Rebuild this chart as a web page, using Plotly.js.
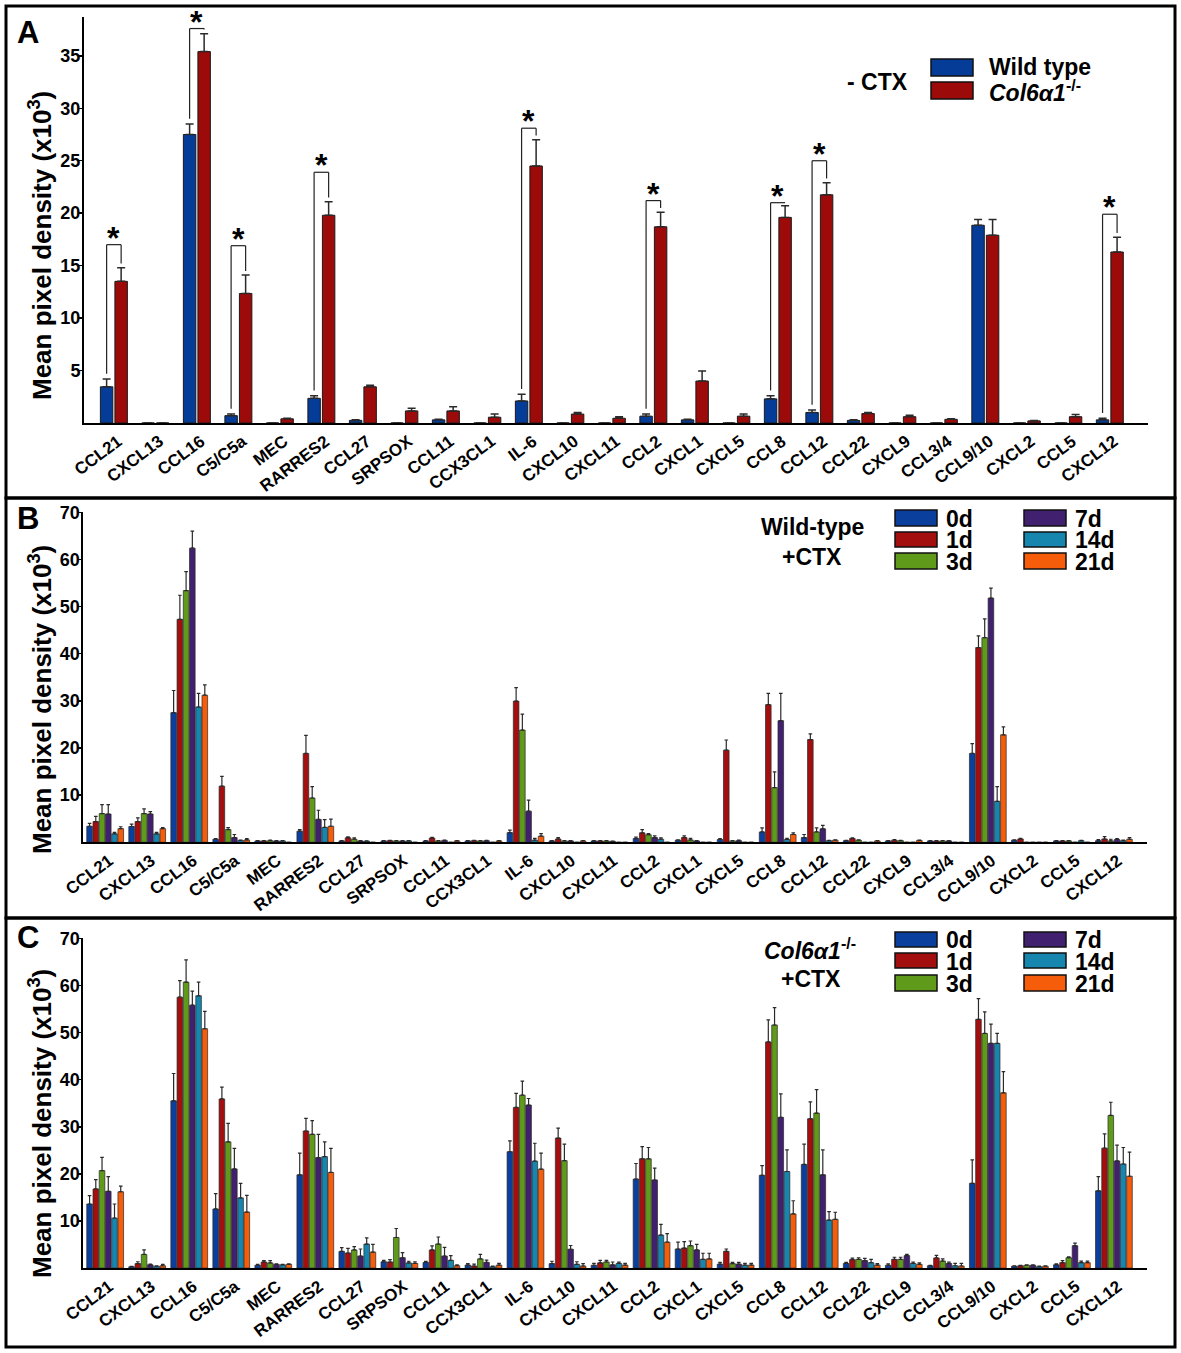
<!DOCTYPE html>
<html>
<head>
<meta charset="utf-8">
<script src="https://cdn.plot.ly/plotly-3.0.1.min.js"></script>
<style>
html,body{margin:0;padding:0;background:#fff;}
#chart{width:1181px;height:1353px;}
</style>
</head>
<body>
<div id="chart"></div>
<script>
// ---------------- categories ----------------
const cats = ['CCL21','CXCL13','CCL16','C5/C5a','MEC','RARRES2','CCL27','SRPSOX','CCL11','CCX3CL1','IL-6','CXCL10','CXCL11','CCL2','CXCL1','CXCL5','CCL8','CCL12','CCL22','CXCL9','CCL3/4','CCL9/10','CXCL2','CCL5','CXCL12'];

// ---------------- Panel A (- CTX) ----------------
const wtA    = [3.45,0,27.5,0.7,0,2.35,0.25,0,0.3,0,2.1,0,0,0.65,0.3,0,2.3,1.0,0.25,0,0,18.85,0,0,0.3];
const wtASem = [0.75,0,1.0,0.15,0,0.25,0.05,0,0.05,0,0.65,0,0,0.2,0.05,0,0.3,0.25,0.05,0,0,0.55,0,0,0.15];
const koA    = [13.5,0,35.4,12.35,0.4,19.8,3.45,1.15,1.15,0.55,24.5,0.85,0.45,18.7,4.0,0.65,19.6,21.75,0.9,0.6,0.35,17.9,0.2,0.6,16.3];
const koASem = [1.3,0,1.7,1.75,0.05,1.3,0.15,0.25,0.4,0.3,2.5,0.15,0.15,1.4,0.95,0.2,1.1,1.15,0.1,0.15,0.05,1.5,0.05,0.2,1.4];
const sigCats = ['CCL21','CCL16','C5/C5a','RARRES2','IL-6','CCL2','CCL8','CCL12','CXCL12'];
const sigTop  = [17.0,37.6,16.9,23.9,28.1,21.2,21.0,25.0,19.9];
const ticksA = [5,10,15,20,25,30,35];

// ---------------- Panel B (Wild-type +CTX) ----------------
const days = ['0d','1d','3d','7d','14d','21d'];
const wt0  = [3.4,3.35,27.5,0.65,0.3,2.35,0.3,0.3,0.3,0.3,2.05,0.3,0.3,0.8,0.45,0.6,2.2,1.0,0.35,0.3,0.3,18.85,0.45,0.3,0.35];
const wt0s = [0.6,0.5,4.7,0.15,0.05,0.35,0.05,0.05,0.05,0.05,0.55,0.05,0.05,0.3,0.05,0.2,0.85,0.65,0.05,0.05,0.05,2.1,0.05,0.05,0.2];
const wt1  = [4.4,4.4,47.3,11.9,0.3,18.85,0.95,0.35,0.9,0.35,29.95,0.7,0.3,2.0,1.0,19.55,29.2,21.8,0.8,0.45,0.3,41.3,0.7,0.3,0.7];
const wt1s = [1.1,0.8,5.1,2.1,0.05,3.85,0.2,0.05,0.15,0.05,2.85,0.3,0.05,0.7,0.35,2.15,2.4,1.2,0.15,0.1,0.05,2.5,0.15,0.05,0.5];
const wt3  = [6.1,6.1,53.4,2.7,0.35,9.4,0.65,0.3,0.3,0.3,23.8,0.3,0.3,1.6,0.5,0.3,11.6,2.2,0.45,0.35,0.3,43.4,0,0.3,0.3];
const wt3s = [1.9,1.0,4.0,0.4,0.1,2.4,0.3,0.05,0.05,0.05,3.4,0.05,0.05,0.25,0.35,0.05,3.35,0.85,0.05,0.05,0.05,4.0,0,0.05,0.35];
const wt7  = [6.0,6.0,62.4,1.0,0.3,4.85,0.3,0.3,0.4,0.35,6.6,0.3,0.2,1.0,0.3,0.35,25.8,2.85,0,0,0.3,51.8,0,0,0.6];
const wt7s = [2.0,0.5,3.6,0.65,0.05,1.95,0.05,0.05,0.05,0.05,2.35,0.05,0.05,0.35,0.05,0.1,5.8,0.75,0,0,0.05,2.1,0,0,0.2];
const wt14 = [1.8,1.8,28.7,0.4,0.3,3.15,0.25,0.3,0,0,0.45,0,0,0.65,0,0,0.6,0.35,0,0,0,8.7,0,0.35,0.35];
const wt14s= [0.3,0.3,2.9,0.05,0.05,1.65,0.05,0.05,0,0,0.4,0,0,0.3,0,0,0.25,0.05,0,0,0,3.1,0,0.05,0.1];
const wt21 = [2.9,2.9,31.2,0.5,0,3.4,0,0,0.3,0.3,1.3,0.3,0,0,0,0,1.65,0.45,0.3,0.4,0,22.8,0,0,0.65];
const wt21s= [0.4,0.2,2.2,0.3,0,1.5,0,0,0.05,0.05,0.55,0.05,0,0,0,0,0.35,0.05,0.05,0.05,0,1.7,0,0,0.35];

// ---------------- Panel C (Col6a1-/- +CTX) ----------------
const ko0  = [13.6,0.3,35.5,12.55,0.6,19.8,3.55,1.35,1.2,0.65,24.7,0.95,0.6,18.9,4.05,0.85,19.7,22.0,1.0,0.6,0.5,18.0,0.4,0.7,16.4];
const ko0s = [1.8,0.05,5.8,3.25,0.2,4.6,0.8,0.3,0.25,0.3,2.3,0.5,0.4,3.3,1.45,0.35,2.05,4.3,0.2,0.3,0.1,4.95,0.1,0.2,3.0];
const ko1  = [16.8,0.95,57.5,35.9,1.3,29.1,3.2,1.3,3.85,0.45,34.1,27.6,1.1,23.2,4.25,3.55,48.0,31.7,1.8,1.85,2.15,52.8,0.5,1.15,25.45];
const ko1s = [2.0,0.4,3.5,2.5,0.3,2.7,1.0,0.5,0.85,0.4,3.0,2.1,0.55,2.6,1.35,0.5,4.7,3.6,0.3,0.45,0.55,4.4,0.1,0.45,3.05];
const ko3  = [20.7,2.9,60.7,26.8,1.1,28.4,3.85,6.5,5.1,1.95,36.7,22.8,1.3,23.2,4.75,0.95,51.6,32.9,1.85,1.85,1.5,49.8,0.6,2.2,32.4];
const ko3s = [2.8,0.95,4.7,3.9,0.5,2.9,0.7,1.9,1.5,0.95,3.0,3.5,0.35,2.4,1.0,0.25,3.7,5.0,0.35,0.45,0.45,4.6,0.1,0.2,2.8];
const ko7  = [16.3,0.7,55.8,21.05,0.8,23.45,2.55,2.2,2.55,1.2,34.6,4.0,0.7,18.7,3.85,0.85,32.0,19.8,1.6,2.65,1.0,47.7,0.6,4.75,22.75];
const ko7s = [3.1,0.15,3.0,4.35,0.1,4.95,1.5,1.1,1.85,0.5,1.4,0.8,0.6,2.5,1.2,0.35,5.0,5.3,0.45,0.25,0.3,4.1,0.1,0.55,3.35];
const ko14 = [10.6,0.4,57.8,14.9,0.7,23.65,5.1,1.1,1.65,0.3,22.7,0.8,1.0,7.0,1.85,0.65,20.5,10.2,1.15,1.0,0.5,47.7,0.3,1.15,22.1];
const ko14s= [3.0,0.1,2.9,3.1,0.1,3.15,1.3,0.35,1.0,0.1,3.8,0.55,0.3,2.3,1.3,0.35,4.6,1.8,0.7,0.3,0.5,2.1,0.1,0.35,3.5];
const ko21 = [16.2,0.5,50.8,11.9,0.8,20.3,3.4,1.0,0.5,0.65,21.0,0.45,0.65,5.5,1.95,0.65,11.5,10.35,0.65,0.8,0.45,37.2,0.4,1.15,19.5];
const ko21s= [1.2,0.3,3.7,3.55,0.1,5.1,1.65,0.35,0.2,0.35,3.4,0.5,0.35,1.8,1.2,0.35,2.8,1.5,0.3,0.3,0.55,4.5,0.1,0.35,5.1];
const ticksBC = [10,20,30,40,50,60,70];

// ---------------- styling ----------------
const W = 1181, H = 1353;
const fx = p => p / W;
const fy = p => 1 - p / H;
const FONT = 'Liberation Sans, Arial, Helvetica, sans-serif';
const colA = ['#053c98', '#9c0a0a'];
const colD = ['#0b3f9e', '#a30e0e', '#5f9a1b', '#41206f', '#1686ae', '#f65d0b'];
const zeros = cats.map(() => 0);

const data = [];
// Panel A
[[wtA, wtASem, 'Wild type', -0.325], [koA, koASem, 'Col6α1-/-', 0.025]].forEach((s, k) => {
  data.push({
    type: 'bar', x: cats, y: s[0], name: s[2], xaxis: 'x', yaxis: 'y',
    width: 0.3, offset: s[3], showlegend: false,
    marker: {color: colA[k], line: {color: '#1a1a1a', width: 1}},
    error_y: {type: 'data', array: s[1], arrayminus: zeros, symmetric: false,
              color: '#2a2a2a', thickness: 1.5, width: 4}
  });
});
// Panels B, C
const seriesB = [[wt0, wt0s], [wt1, wt1s], [wt3, wt3s], [wt7, wt7s], [wt14, wt14s], [wt21, wt21s]];
const seriesC = [[ko0, ko0s], [ko1, ko1s], [ko3, ko3s], [ko7, ko7s], [ko14, ko14s], [ko21, ko21s]];
[[seriesB, 'x2', 'y2'], [seriesC, 'x3', 'y3']].forEach(p => {
  p[0].forEach((s, k) => {
    data.push({
      type: 'bar', x: cats, y: s[0], name: days[k], xaxis: p[1], yaxis: p[2], showlegend: false,
      marker: {color: colD[k], line: {color: '#2a2a2a', width: 0.7}},
      error_y: {type: 'data', array: s[1], arrayminus: zeros, symmetric: false,
                color: '#2a2a2a', thickness: 1.2, width: 1.8}
    });
  });
});

function xax(d0, d1, r0, r1, anchor) {
  return {
    domain: [fx(d0), fx(d1)], anchor: anchor, type: 'category', range: [r0, r1],
    showline: true, linecolor: '#000', linewidth: 2, ticks: '', showgrid: false, zeroline: false,
    tickangle: -37, ticklabelshift: 4, tickfont: {family: FONT, size: 17, color: '#000', weight: 'bold'}, fixedrange: true
  };
}
function yax(top, bot, rmax, tv, anchor) {
  return {
    domain: [fy(bot), fy(top)], anchor: anchor, range: [0, rmax], tickvals: tv, ticktext: tv.map(String),
    showline: true, linecolor: '#000', linewidth: 2, ticks: 'outside', ticklen: 3, tickwidth: 1.5, tickcolor: '#000',
    ticklabelstandoff: -5,
    showgrid: false, zeroline: false, tickfont: {family: FONT, size: 18, color: '#000', weight: 'bold'}, fixedrange: true
  };
}

const shapes = [];
const ann = [];
// panel frames
[[6, 498], [498, 918], [918, 1347]].forEach(r => {
  shapes.push({type: 'rect', xref: 'paper', yref: 'paper', x0: fx(6), x1: fx(1175), y0: fy(r[1]), y1: fy(r[0]),
               line: {color: '#000', width: 3}, fillcolor: 'rgba(0,0,0,0)'});
});
// significance brackets (panel A)
sigCats.forEach((c, j) => {
  const i = cats.indexOf(c);
  const xl = i - 0.175, xr = i + 0.175, top = sigTop[j];
  const yl = wtA[i] + wtASem[i] + 0.5;
  const yr = Math.min(koA[i] + koASem[i] + 0.4, top);
  const ln = {color: '#222', width: 1.2};
  shapes.push({type: 'line', xref: 'x', yref: 'y', x0: xl, x1: xl, y0: yl, y1: top, line: ln});
  shapes.push({type: 'line', xref: 'x', yref: 'y', x0: xl, x1: xr, y0: top, y1: top, line: ln});
  shapes.push({type: 'line', xref: 'x', yref: 'y', x0: xr, x1: xr, y0: yr, y1: top, line: ln});
  ann.push({xref: 'x', yref: 'y', x: i, y: top, text: '<b>*</b>', showarrow: false, yanchor: 'bottom',
            yshift: -13, font: {family: FONT, size: 32, color: '#000'}});
});

function txt(x, y, t, size, xanchor, extra) {
  return Object.assign({xref: 'paper', yref: 'paper', x: fx(x), y: fy(y), text: t, showarrow: false,
    xanchor: xanchor || 'center', yanchor: 'middle', font: {family: FONT, size: size, color: '#000'}}, extra || {});
}
function box(x0, y0, x1, y1, col) {
  shapes.push({type: 'rect', xref: 'paper', yref: 'paper', x0: fx(x0), x1: fx(x1), y0: fy(y1), y1: fy(y0),
               fillcolor: col, line: {color: '#111', width: 1.5}});
}

// panel letters
ann.push(txt(28, 32, '<b>A</b>', 31));
ann.push(txt(28, 518, '<b>B</b>', 31));
ann.push(txt(28, 937, '<b>C</b>', 31));
// y titles
const ytitle = '<b>Mean pixel density (x10<sup>3</sup>)</b>';
ann.push(txt(40, 246, ytitle, 26, 'center', {textangle: -90}));
ann.push(txt(40, 700, ytitle, 26, 'center', {textangle: -90}));
ann.push(txt(40, 1124, ytitle, 26, 'center', {textangle: -90}));

// legend A
ann.push(txt(877, 82, '<b>- CTX</b>', 23));
box(931, 59, 973, 76, colA[0]);
box(931, 82, 973, 99, colA[1]);
ann.push(txt(987, 67, '<b>Wild type</b>', 23, 'left'));
ann.push(txt(987, 91, '<b><i>Col6α1</i><sup>-/-</sup></b>', 23, 'left'));

// legends B and C
function dayLegend(rows) {
  const cols = [[895, 937, 944], [1024, 1066, 1073]];
  for (let k = 0; k < 6; k++) {
    const c = cols[Math.floor(k / 3)], r = rows[k % 3];
    box(c[0], r[0], c[1], r[1], colD[k]);
    ann.push(txt(c[2], (r[0] + r[1]) / 2 + 1, '<b>' + days[k] + '</b>', 23, 'left'));
  }
}
dayLegend([[510, 526], [532, 547], [553, 569]]);
ann.push(txt(812, 527, '<b>Wild-type</b>', 23));
ann.push(txt(812, 557, '<b>+CTX</b>', 23));
dayLegend([[932, 947], [953, 968], [975, 991]]);
ann.push(txt(810, 949, '<b><i>Col6α1</i><sup>-/-</sup></b>', 23));
ann.push(txt(811, 979, '<b>+CTX</b>', 23));

const layout = {
  width: W, height: H, margin: {l: 0, r: 0, t: 0, b: 0},
  paper_bgcolor: '#fff', plot_bgcolor: '#fff', showlegend: false,
  barmode: 'group', bargap: 0.11, bargroupgap: 0.1,
  font: {family: FONT, color: '#000'},
  xaxis: xax(84, 1148, -0.72, 24.92, 'y'),
  yaxis: yax(17, 423, 38.7, ticksA, 'x'),
  xaxis2: xax(83.3, 1146.7, -0.52, 24.78, 'y2'),
  yaxis2: yax(512.3, 842.3, 70, ticksBC, 'x2'),
  xaxis3: xax(83.3, 1146.7, -0.52, 24.78, 'y3'),
  yaxis3: yax(938.3, 1268.1, 70, ticksBC, 'x3'),
  shapes: shapes, annotations: ann
};
Plotly.newPlot('chart', data, layout, {staticPlot: true, displayModeBar: false});
</script>
</body>
</html>
